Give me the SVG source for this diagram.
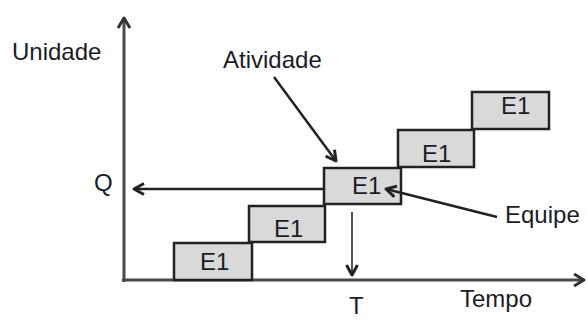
<svg xmlns="http://www.w3.org/2000/svg" width="587" height="320" viewBox="0 0 587 320">
<defs>
<style>
.t{font-family:"Liberation Sans",Arial,sans-serif;font-size:24px;fill:#1c1c28}
.box{fill:#d9d9d9;stroke:#222;stroke-width:2.5}
.ax{stroke:#4a4a4a;stroke-width:3;fill:none}
.ar{stroke:#222;stroke-width:2.5;fill:none}
</style>
<marker id="ah" viewBox="0 0 14 14" refX="11" refY="7" markerWidth="14" markerHeight="14" markerUnits="userSpaceOnUse" orient="auto">
<path d="M1,1.5 L11,7 L1,12.5" fill="none" stroke="#222" stroke-width="3" stroke-linejoin="round"/>
</marker>
<marker id="ahg" viewBox="0 0 14 14" refX="11" refY="7" markerWidth="14" markerHeight="14" markerUnits="userSpaceOnUse" orient="auto">
<path d="M1,1 L11,7 L1,13" fill="none" stroke="#333" stroke-width="3" stroke-linejoin="round"/>
</marker>
</defs>
<rect width="587" height="320" fill="#fff"/>
<g id="axes">
<line class="ax" x1="124" y1="282" x2="124" y2="18" marker-end="url(#ahg)"/>
<line class="ax" x1="122" y1="280" x2="584" y2="280" marker-end="url(#ahg)"/>
</g>
<g id="labels">
<text class="t" x="12" y="60">Unidade</text>
<text class="t" x="223" y="68">Atividade</text>
<text class="t" x="94" y="191">Q</text>
<text class="t" x="349" y="314">T</text>
<text class="t" x="460" y="307">Tempo</text>
<text class="t" x="505" y="223">Equipe</text>
</g>
<g id="box1"><rect class="box" x="174" y="243" width="78" height="37"/><text class="t" x="200" y="270">E1</text></g>
<g id="box2"><rect class="box" x="249" y="206" width="76" height="36"/><text class="t" x="274" y="237">E1</text></g>
<g id="box3"><rect class="box" x="324" y="168" width="77" height="36"/><text class="t" x="352" y="194">E1</text></g>
<g id="box4"><rect class="box" x="398" y="130" width="76" height="37"/><text class="t" x="422" y="162">E1</text></g>
<g id="box5"><rect class="box" x="472" y="92" width="77" height="37"/><text class="t" x="501" y="114">E1</text></g>
<g id="connectors">
<line class="ar" x1="323" y1="189" x2="134" y2="189" marker-end="url(#ah)"/>
<line x1="352" y1="212" x2="352" y2="275" stroke="#555" stroke-width="2" marker-end="url(#ah)"/>
<line class="ar" x1="274" y1="77" x2="336" y2="161" marker-end="url(#ah)"/>
<line class="ar" x1="497" y1="217" x2="386" y2="189" marker-end="url(#ah)"/>
</g>
</svg>
